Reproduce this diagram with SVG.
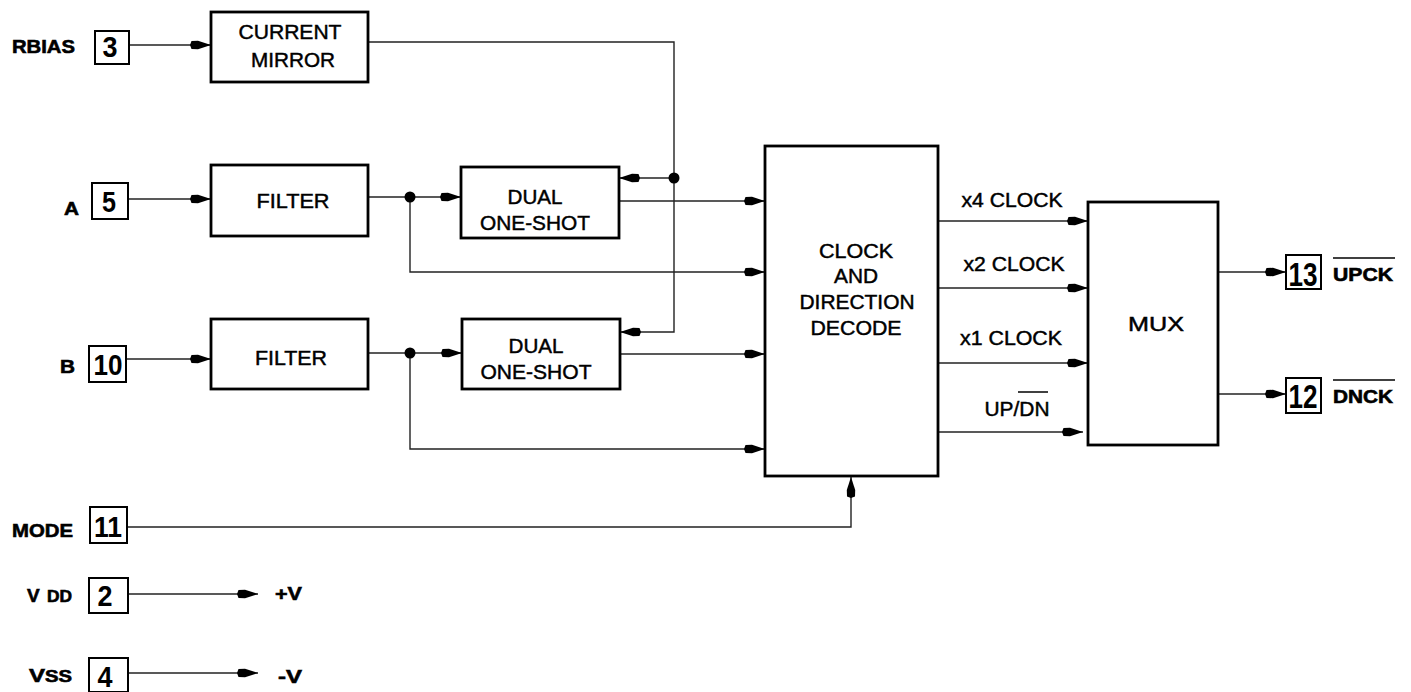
<svg xmlns="http://www.w3.org/2000/svg" width="1411" height="692" viewBox="0 0 1411 692">
<style>
  .box { fill: #fff; stroke: #000; stroke-width: 2.8; }
  .pin { fill: #fff; stroke: #000; stroke-width: 2; }
  .wire { fill: none; stroke: #222; stroke-width: 1.4; }
  .t { font-family: "Liberation Sans", Arial, sans-serif; font-size: 20px; fill: #000; stroke: #000; stroke-width: 0.45; text-anchor: middle; }
  .lbl { font-family: "Liberation Sans", Arial, sans-serif; font-size: 19px; font-weight: bold; fill: #000; stroke: #000; stroke-width: 0.6; }
  .pn { font-family: "Liberation Sans", Arial, sans-serif; font-size: 29px; font-weight: bold; fill: #000; text-anchor: middle; }
  .pnr { font-family: "Liberation Sans", Arial, sans-serif; font-size: 34px; font-weight: bold; fill: #000; text-anchor: middle; }
  .dot { fill: #000; }
  .ov { stroke: #000; stroke-width: 1.5; }
</style>
<defs>
  <marker id="ah" markerUnits="userSpaceOnUse" markerWidth="24" markerHeight="12" refX="21" refY="6" orient="auto">
    <path d="M0,6 L1.5,2 L8,1.8 L21,6 L8,10.2 L1.5,10 Z" fill="#000"/>
  </marker>
</defs>

<g id="connectors">
  <path class="wire" d="M129,45 H211" marker-end="url(#ah)"/>
  <path class="wire" d="M368,42 H674 V332 H620" marker-end="url(#ah)"/>
  <path class="wire" d="M674,178 H619" marker-end="url(#ah)"/>
  <path class="wire" d="M128,199 H211" marker-end="url(#ah)"/>
  <path class="wire" d="M368,197 H461" marker-end="url(#ah)"/>
  <path class="wire" d="M410,197 V272 H765" marker-end="url(#ah)"/>
  <path class="wire" d="M619,201 H765" marker-end="url(#ah)"/>
  <path class="wire" d="M126,359 H211" marker-end="url(#ah)"/>
  <path class="wire" d="M368,353 H462" marker-end="url(#ah)"/>
  <path class="wire" d="M410,353 V449 H765" marker-end="url(#ah)"/>
  <path class="wire" d="M620,354 H765" marker-end="url(#ah)"/>
  <path class="wire" d="M127,527 H851 V477" marker-end="url(#ah)"/>
  <path class="wire" d="M938,221 H1088" marker-end="url(#ah)"/>
  <path class="wire" d="M938,288 H1088" marker-end="url(#ah)"/>
  <path class="wire" d="M938,363 H1088" marker-end="url(#ah)"/>
  <path class="wire" d="M938,432 H1083" marker-end="url(#ah)"/>
  <path class="wire" d="M1218,272 H1286" marker-end="url(#ah)"/>
  <path class="wire" d="M1218,394 H1286" marker-end="url(#ah)"/>
  <path class="wire" d="M128,594 H258" marker-end="url(#ah)"/>
  <path class="wire" d="M128,673 H258" marker-end="url(#ah)"/>
  <circle class="dot" cx="674" cy="178" r="5.5"/>
  <circle class="dot" cx="410" cy="197" r="5.5"/>
  <circle class="dot" cx="410" cy="353" r="5.5"/>
  <text class="t" x="1012" y="207" textLength="101" lengthAdjust="spacingAndGlyphs">x4 CLOCK</text>
  <text class="t" x="1014" y="271" textLength="101" lengthAdjust="spacingAndGlyphs">x2 CLOCK</text>
  <text class="t" x="1011" y="345" textLength="102" lengthAdjust="spacingAndGlyphs">x1 CLOCK</text>
  <text class="t" x="1017" y="416" textLength="65" lengthAdjust="spacingAndGlyphs">UP/DN</text>
  <line class="ov" x1="1018" y1="392" x2="1048" y2="392"/>
</g>

<g id="pin-rbias">
  <text class="lbl" x="12" y="53" textLength="63" lengthAdjust="spacingAndGlyphs">RBIAS</text>
  <rect class="pin" x="95" y="31" width="34" height="33"/>
  <text class="pn" x="110" y="57" textLength="15" lengthAdjust="spacingAndGlyphs">3</text>
</g>
<g id="pin-a">
  <text class="lbl" x="64" y="215" textLength="15" lengthAdjust="spacingAndGlyphs">A</text>
  <rect class="pin" x="92" y="183" width="36" height="36"/>
  <text class="pn" x="109" y="212" textLength="14" lengthAdjust="spacingAndGlyphs">5</text>
</g>
<g id="pin-b">
  <text class="lbl" x="60" y="373" textLength="15" lengthAdjust="spacingAndGlyphs">B</text>
  <rect class="pin" x="89" y="346" width="37" height="36"/>
  <text class="pn" x="108" y="375" textLength="29" lengthAdjust="spacingAndGlyphs">10</text>
</g>
<g id="pin-mode">
  <text class="lbl" x="12" y="537" textLength="61" lengthAdjust="spacingAndGlyphs">MODE</text>
  <rect class="pin" x="90" y="507" width="37" height="36"/>
  <text class="pn" x="108" y="537" textLength="28" lengthAdjust="spacingAndGlyphs">11</text>
</g>
<g id="pin-vdd">
  <text class="lbl" x="27" y="602">V<tspan x="47" font-size="16" textLength="25" lengthAdjust="spacingAndGlyphs">DD</tspan></text>
  <rect class="pin" x="89" y="578" width="39" height="35"/>
  <text class="pn" x="105" y="606" textLength="15" lengthAdjust="spacingAndGlyphs">2</text>
  <text class="lbl" x="275" y="600" textLength="27" lengthAdjust="spacingAndGlyphs">+V</text>
</g>
<g id="pin-vss">
  <text class="lbl" x="29" y="682" textLength="43" lengthAdjust="spacingAndGlyphs">V<tspan font-size="16">SS</tspan></text>
  <rect class="pin" x="89" y="658" width="39" height="34"/>
  <text class="pn" x="105" y="687" textLength="15" lengthAdjust="spacingAndGlyphs">4</text>
  <text class="lbl" x="278" y="683" textLength="24" lengthAdjust="spacingAndGlyphs">-V</text>
</g>

<g id="current-mirror">
  <rect class="box" x="211" y="12" width="157" height="70"/>
  <text class="t" x="290" y="39" textLength="103" lengthAdjust="spacingAndGlyphs">CURRENT</text>
  <text class="t" x="293" y="67" textLength="84" lengthAdjust="spacingAndGlyphs">MIRROR</text>
</g>
<g id="filter-a">
  <rect class="box" x="211" y="165" width="157" height="71"/>
  <text class="t" x="293" y="208" textLength="73" lengthAdjust="spacingAndGlyphs">FILTER</text>
</g>
<g id="filter-b">
  <rect class="box" x="211" y="319" width="157" height="70"/>
  <text class="t" x="291" y="365" textLength="72" lengthAdjust="spacingAndGlyphs">FILTER</text>
</g>
<g id="one-shot-a">
  <rect class="box" x="461" y="167" width="158" height="71"/>
  <text class="t" x="535" y="204" textLength="55" lengthAdjust="spacingAndGlyphs">DUAL</text>
  <text class="t" x="535" y="230" textLength="110" lengthAdjust="spacingAndGlyphs">ONE-SHOT</text>
</g>
<g id="one-shot-b">
  <rect class="box" x="462" y="319" width="158" height="70"/>
  <text class="t" x="536" y="353" textLength="55" lengthAdjust="spacingAndGlyphs">DUAL</text>
  <text class="t" x="536" y="379" textLength="111" lengthAdjust="spacingAndGlyphs">ONE-SHOT</text>
</g>
<g id="clock-decode">
  <rect class="box" x="765" y="146" width="173" height="330"/>
  <text class="t" x="856" y="258" textLength="74" lengthAdjust="spacingAndGlyphs">CLOCK</text>
  <text class="t" x="856" y="283" textLength="44" lengthAdjust="spacingAndGlyphs">AND</text>
  <text class="t" x="857" y="309" textLength="115" lengthAdjust="spacingAndGlyphs">DIRECTION</text>
  <text class="t" x="856" y="335" textLength="91" lengthAdjust="spacingAndGlyphs">DECODE</text>
</g>
<g id="mux">
  <rect class="box" x="1088" y="202" width="130" height="243"/>
  <text class="t" x="1156" y="331" font-size="24" textLength="56" lengthAdjust="spacingAndGlyphs">MUX</text>
</g>
<g id="pin-upck">
  <rect class="pin" x="1286" y="255" width="35" height="34"/>
  <text class="pnr" x="1303" y="286" textLength="29" lengthAdjust="spacingAndGlyphs">13</text>
  <text class="lbl" x="1333" y="281" font-size="21" textLength="60" lengthAdjust="spacingAndGlyphs">UPCK</text>
  <line class="ov" x1="1333" y1="258" x2="1395" y2="258"/>
</g>
<g id="pin-dnck">
  <rect class="pin" x="1286" y="378" width="35" height="35"/>
  <text class="pnr" x="1303" y="408" textLength="29" lengthAdjust="spacingAndGlyphs">12</text>
  <text class="lbl" x="1333" y="403" font-size="21" textLength="60" lengthAdjust="spacingAndGlyphs">DNCK</text>
  <line class="ov" x1="1333" y1="380" x2="1395" y2="380"/>
</g>
</svg>
